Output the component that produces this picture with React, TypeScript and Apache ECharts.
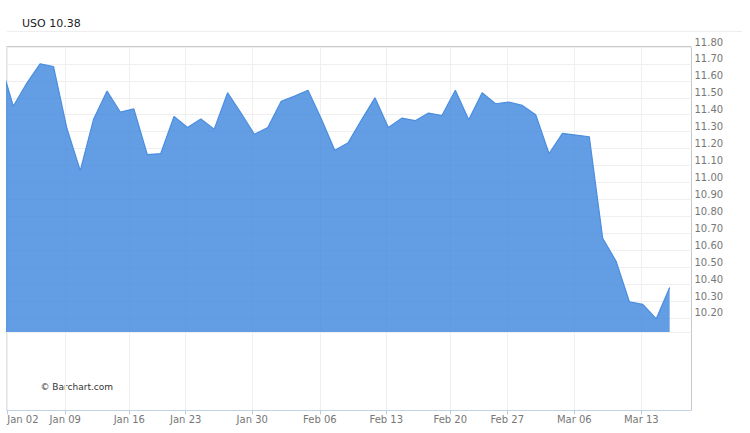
import React, { useEffect, useRef } from "react";
import * as echarts from "echarts";

// Trading sessions (index = position on the x axis)
const dates = [
  "2016-12-30", "2017-01-03", "2017-01-04", "2017-01-05", "2017-01-06",
  "2017-01-09", "2017-01-10", "2017-01-11", "2017-01-12", "2017-01-13",
  "2017-01-17", "2017-01-18", "2017-01-19", "2017-01-20", "2017-01-23",
  "2017-01-24", "2017-01-25", "2017-01-26", "2017-01-27", "2017-01-30",
  "2017-01-31", "2017-02-01", "2017-02-02", "2017-02-03", "2017-02-06",
  "2017-02-07", "2017-02-08", "2017-02-09", "2017-02-10", "2017-02-13",
  "2017-02-14", "2017-02-15", "2017-02-16", "2017-02-17", "2017-02-21",
  "2017-02-22", "2017-02-23", "2017-02-24", "2017-02-27", "2017-02-28",
  "2017-03-01", "2017-03-02", "2017-03-03", "2017-03-06", "2017-03-07",
  "2017-03-08", "2017-03-09", "2017-03-10", "2017-03-13", "2017-03-14",
  "2017-03-15",
];

const closes = [
  11.72, 11.45, 11.585, 11.7, 11.685,
  11.32, 11.07, 11.375, 11.54, 11.415,
  11.435, 11.165, 11.17, 11.39, 11.325,
  11.375, 11.315, 11.53, 11.41, 11.285,
  11.325, 11.48, 11.51, 11.545, 11.375,
  11.19, 11.235, 11.37, 11.5, 11.325,
  11.38, 11.365, 11.41, 11.395, 11.545,
  11.37, 11.53, 11.465, 11.475, 11.455,
  11.4, 11.17, 11.29, 11.28, 11.27,
  10.67, 10.535, 10.295, 10.28, 10.195,
  10.38,
];

// Weekly tick labels and their positions in session units
const tickLabels = [
  "Jan 02", "Jan 09", "Jan 16", "Jan 23", "Jan 30", "Feb 06",
  "Feb 13", "Feb 20", "Feb 27", "Mar 06", "Mar 13",
];
const tickPositions = [0.55, 4.88, 9.66, 13.87, 18.84, 23.89, 28.84, 33.62, 37.87, 42.88, 47.88];

const xRange = [0.53, 51.63];
const yRange = [10.117, 11.8];
const headerText = "USO 10.38";
const creditText = "© Barchart.com";

const FONT = "DejaVu Sans";

export default function App() {
  const ref = useRef<HTMLDivElement>(null);

  useEffect(() => {
    if (!ref.current) return;
    const chart = echarts.init(ref.current, null, { renderer: "svg" });
    const labelFor = (v: number) => {
      const k = tickPositions.findIndex((p) => Math.abs(p - v) < 1e-6);
      return k >= 0 ? tickLabels[k] : "";
    };
    chart.setOption({
      animation: false,
      backgroundColor: "#ffffff",
      grid: [
        {
          left: 7,
          right: 58.5,
          top: 47,
          bottom: 22.5,
          show: true,
          borderColor: "#c8c8c8",
          borderWidth: 1,
          backgroundColor: "transparent",
        },
        { left: 7, right: 58.5, top: 47, bottom: 101 },
      ],
      xAxis: [
        {
          type: "value",
          gridIndex: 0,
          min: xRange[0],
          max: xRange[1],
          axisLine: { show: true, lineStyle: { color: "#c3d3e6", width: 1 } },
          axisTick: {
            show: true,
            length: 4,
            customValues: tickPositions,
            lineStyle: { color: "#b9cde4" },
          },
          axisLabel: {
            show: true,
            customValues: tickPositions,
            formatter: labelFor,
            color: "#777777",
            fontSize: 10,
            fontFamily: FONT,
            margin: 4,
            alignMinLabel: "left",
          },
          splitLine: { show: true, lineStyle: { color: "#efefef", width: 1 } },
        },
        {
          type: "value",
          gridIndex: 1,
          min: xRange[0],
          max: xRange[1],
          show: false,
          splitLine: { show: false },
        },
      ],
      yAxis: [
        { type: "value", gridIndex: 0, min: 0, max: 1, show: false, splitLine: { show: false } },
        {
          type: "value",
          gridIndex: 1,
          position: "right",
          min: yRange[0],
          max: yRange[1],
          minInterval: 0.1,
          maxInterval: 0.1,
          splitNumber: 17,
          axisLine: { show: false },
          axisTick: { show: false },
          axisLabel: {
            show: true,
            showMinLabel: false,
            formatter: (v: number) => v.toFixed(2),
            color: "#777777",
            fontSize: 10,
            fontFamily: FONT,
            margin: 3,
            verticalAlign: "bottom",
            align: "left",
          },
          splitLine: { show: true, lineStyle: { color: "#efefef", width: 1 } },
        },
      ],
      series: [
        {
          type: "line",
          name: "USO",
          xAxisIndex: 1,
          yAxisIndex: 1,
          data: closes.map((v, i) => [i, v, dates[i]]),
          symbol: "none",
          clip: true,
          lineStyle: { color: "#4a8ee0", width: 1.2 },
          areaStyle: { color: "rgba(60,132,220,0.8)", opacity: 1, origin: "start" },
        },
      ],
      graphic: [
        {
          type: "line",
          shape: { x1: 7, y1: 31.5, x2: 742, y2: 31.5 },
          style: { stroke: "#eeeeee", lineWidth: 1 },
        },
        {
          type: "rect",
          shape: { x: 6.5, y: 46.5, width: 685, height: 0 },
          style: { stroke: "#c8c8c8", lineWidth: 1.2, fill: "none" },
        },
        {
          type: "text",
          x: 22,
          y: 23,
          style: {
            text: headerText,
            fill: "#222222",
            fontSize: 11,
            fontFamily: FONT,
            verticalAlign: "middle",
            align: "left",
          },
        },
        {
          type: "text",
          x: 40.5,
          y: 387,
          style: {
            text: creditText,
            fill: "#333333",
            fontSize: 9,
            fontFamily: FONT,
            verticalAlign: "middle",
            align: "left",
          },
        },
      ],
    });
    return () => chart.dispose();
  }, []);

  return (
    <div
      ref={ref}
      style={{ position: "fixed", left: 0, top: 0, width: 750, height: 433 }}
    />
  );
}
